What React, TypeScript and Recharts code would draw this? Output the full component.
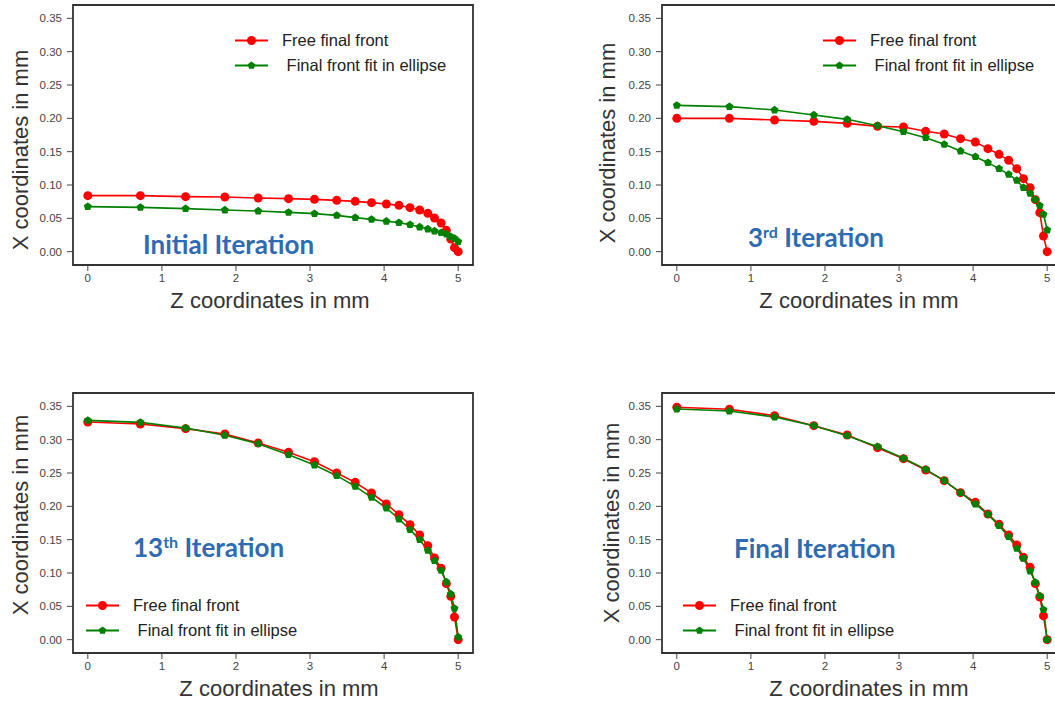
import type { ReactNode } from "react";
import { LineChart, Line, XAxis, YAxis, ReferenceArea, Legend, Label } from "recharts";

// z positions shared by every front (mm)
const zCoords = [0, 0.71, 1.32, 1.85, 2.3, 2.71, 3.06, 3.36, 3.61, 3.83, 4.03, 4.2, 4.35, 4.48, 4.59, 4.68, 4.77, 4.84, 4.9, 4.95, 5.0];

const initialFree = [0.084, 0.084, 0.0825, 0.082, 0.0805, 0.0795, 0.0785, 0.077, 0.0755, 0.0735, 0.0715, 0.0695, 0.066, 0.0625, 0.0575, 0.0505, 0.043, 0.032, 0.019, 0.006, 0.0];
const initialFit = [0.0675, 0.0665, 0.0645, 0.0625, 0.061, 0.059, 0.057, 0.0545, 0.051, 0.0485, 0.0456, 0.0435, 0.0405, 0.037, 0.034, 0.031, 0.0285, 0.0265, 0.0225, 0.02, 0.015];

const thirdFree = [0.2, 0.2, 0.1975, 0.1955, 0.1925, 0.188, 0.187, 0.1805, 0.1765, 0.1695, 0.1645, 0.1545, 0.146, 0.137, 0.1245, 0.1095, 0.096, 0.078, 0.0585, 0.0235, 0.0];
const thirdFit = [0.2195, 0.2175, 0.2125, 0.205, 0.1985, 0.189, 0.18, 0.171, 0.161, 0.151, 0.1425, 0.1335, 0.1245, 0.116, 0.107, 0.096, 0.0875, 0.078, 0.069, 0.056, 0.0325];

const thirteenthFree = [0.3265, 0.3235, 0.3165, 0.3085, 0.295, 0.281, 0.267, 0.25, 0.236, 0.22, 0.2035, 0.1875, 0.1725, 0.157, 0.141, 0.1225, 0.107, 0.084, 0.065, 0.034, 0.0];
const thirteenthFit = [0.329, 0.326, 0.3175, 0.3065, 0.294, 0.2775, 0.262, 0.246, 0.23, 0.2135, 0.1975, 0.181, 0.165, 0.15, 0.134, 0.1185, 0.104, 0.0865, 0.0685, 0.047, 0.004];

const finalFree = [0.3487, 0.3457, 0.336, 0.321, 0.307, 0.288, 0.2715, 0.2545, 0.2385, 0.2205, 0.206, 0.1885, 0.173, 0.157, 0.142, 0.1235, 0.1085, 0.084, 0.064, 0.0356, 0.0];
const finalFit = [0.346, 0.343, 0.334, 0.321, 0.306, 0.2895, 0.272, 0.2555, 0.2385, 0.2205, 0.2035, 0.188, 0.171, 0.1545, 0.137, 0.122, 0.103, 0.0857, 0.0656, 0.045, 0.0];

const xTicks = [0, 1, 2, 3, 4, 5];
const yTicks = [0, 0.05, 0.1, 0.15, 0.2, 0.25, 0.3, 0.35];
const seriesNames = ["Free final front", " Final front fit in ellipse"];

const RED = "#ff0000";
const GREEN = "#008000";
const BLUE = "#2e6bb0";
const SANS = "'Liberation Sans', Arial, sans-serif";

function pentagonPoints(cx: number, cy: number, r: number) {
  return [0, 1, 2, 3, 4]
    .map((k) => {
      const a = -Math.PI / 2 + (k * 2 * Math.PI) / 5;
      return `${cx + r * Math.cos(a)},${cy + r * Math.sin(a)}`;
    })
    .join(" ");
}

function greenDot(p: any) {
  if (p.cx == null || p.cy == null) return <g key={`g-${p.index}`} />;
  return <polygon key={`g-${p.index}`} points={pentagonPoints(p.cx, p.cy, 4.2)} fill={GREEN} />;
}

function FrontLegend() {
  return (
    <div style={{ fontFamily: SANS, fontSize: 16.5, color: "#222", lineHeight: "25px" }}>
      {seriesNames.map((name, i) => (
        <div key={name} style={{ display: "flex", alignItems: "center", height: 25 }}>
          <svg width={47} height={25} style={{ flex: "none" }}>
            <line x1={0} x2={33} y1={12.5} y2={12.5} stroke={i === 0 ? RED : GREEN} strokeWidth={2} />
            {i === 0 ? (
              <circle cx={16.5} cy={12.5} r={4.5} fill={RED} />
            ) : (
              <polygon points={pentagonPoints(16.5, 12.5, 4)} fill={GREEN} />
            )}
          </svg>
          <span style={{ whiteSpace: "pre" }}>{name}</span>
        </div>
      ))}
    </div>
  );
}

interface PanelProps {
  left: number;
  top: number;
  free: number[];
  fit: number[];
  legendLeft: number;
  legendTop: number;
  title: ReactNode;
  titleLeft: number;
  titleTop: number;
  yLabelX: number;
  yLabelY: number;
  xLabelX: number;
}

function Panel(props: PanelProps) {
  const rows = zCoords.map((z, i) => ({ z, free: props.free[i], fit: props.fit[i] }));

  const yLabel = () => (
    <text
      x={props.yLabelX}
      y={props.yLabelY}
      transform={`rotate(-90 ${props.yLabelX} ${props.yLabelY})`}
      textAnchor="middle"
      fontFamily={SANS}
      fontSize={22}
      fill="#333"
    >
      X coordinates in mm
    </text>
  );
  const xLabel = () => (
    <text x={props.xLabelX} y={308} textAnchor="middle" fontFamily={SANS} fontSize={22} fill="#333">
      Z coordinates in mm
    </text>
  );

  return (
    <div style={{ position: "absolute", left: props.left, top: props.top, width: 480, height: 320 }}>
      <LineChart width={480} height={320} data={rows} margin={{ top: 5, right: 7, left: 0, bottom: 0 }}>
        <XAxis
          dataKey="z"
          type="number"
          domain={[-0.2, 5.2]}
          ticks={xTicks}
          axisLine={false}
          tickSize={6}
          tickMargin={3}
          tickLine={{ stroke: "#444" }}
          tick={{ fontSize: 11.5, fill: "#444", fontFamily: SANS }}
          height={55}
        >
          <Label content={xLabel} />
        </XAxis>
        <YAxis
          type="number"
          domain={[-0.02, 0.37]}
          ticks={yTicks}
          axisLine={false}
          tickSize={6}
          tickMargin={5}
          tickLine={{ stroke: "#444" }}
          tick={{ fontSize: 11.5, fill: "#444", fontFamily: SANS }}
          tickFormatter={(v: number) => v.toFixed(2)}
          width={73}
        >
          <Label content={yLabel} />
        </YAxis>
        <ReferenceArea x1={-0.2} x2={5.2} y1={-0.02} y2={0.37} fill="none" fillOpacity={0} stroke="#333" strokeWidth={1.8} />
        <Line
          type="linear"
          dataKey="free"
          name={seriesNames[0]}
          stroke={RED}
          strokeWidth={1.6}
          dot={{ r: 4.5, fill: RED, stroke: RED, strokeWidth: 0 }}
          isAnimationActive={false}
        />
        <Line
          type="linear"
          dataKey="fit"
          name={seriesNames[1]}
          stroke={GREEN}
          strokeWidth={1.6}
          dot={greenDot}
          isAnimationActive={false}
        />
        <Legend
          content={<FrontLegend />}
          layout="vertical"
          align="center"
          verticalAlign="middle"
          wrapperStyle={{ left: props.legendLeft, top: props.legendTop, width: "auto" }}
        />
      </LineChart>
      <div
        style={{
          position: "absolute",
          left: props.titleLeft,
          top: props.titleTop - 16,
          height: 32,
          lineHeight: "32px",
          fontFamily: "Lato, 'Open Sans', sans-serif",
          fontWeight: 700,
          fontSize: 26,
          color: BLUE,
          whiteSpace: "nowrap",
        }}
      >
        {props.title}
      </div>
    </div>
  );
}

const sup = (s: string) => (
  <span style={{ fontSize: 16, position: "relative", top: -9 }}>{s}</span>
);

export default function App() {
  return (
    <div style={{ position: "absolute", left: 0, top: 0, width: 1055, height: 702, overflow: "hidden", background: "#fff" }}>
      <Panel
        left={0}
        top={0}
        free={initialFree}
        fit={initialFit}
        legendLeft={235}
        legendTop={27.5}
        title="Initial Iteration"
        titleLeft={143}
        titleTop={244}
        yLabelX={28}
        yLabelY={150}
        xLabelX={270}
      />
      <Panel
        left={589}
        top={0}
        free={thirdFree}
        fit={thirdFit}
        legendLeft={234}
        legendTop={27.5}
        title={<>3{sup("rd")} Iteration</>}
        titleLeft={159}
        titleTop={237}
        yLabelX={26}
        yLabelY={143}
        xLabelX={270}
      />
      <Panel
        left={0}
        top={388}
        free={thirteenthFree}
        fit={thirteenthFit}
        legendLeft={86}
        legendTop={205}
        title={<>13{sup("th")} Iteration</>}
        titleLeft={133}
        titleTop={159}
        yLabelX={28}
        yLabelY={127}
        xLabelX={279}
      />
      <Panel
        left={589}
        top={388}
        free={finalFree}
        fit={finalFit}
        legendLeft={94}
        legendTop={205}
        title="Final Iteration"
        titleLeft={145}
        titleTop={160}
        yLabelX={30}
        yLabelY={135}
        xLabelX={280}
      />
    </div>
  );
}
